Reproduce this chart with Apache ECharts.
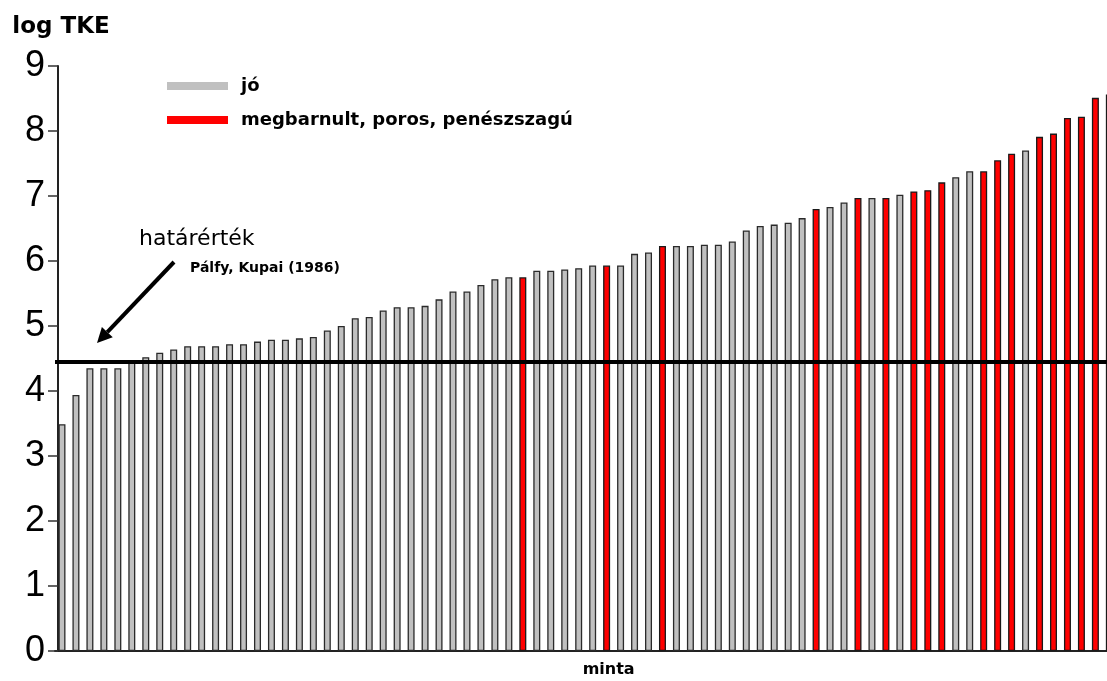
<!DOCTYPE html>
<html>
<head>
<meta charset="utf-8">
<script src="https://cdn.jsdelivr.net/npm/echarts@6/dist/echarts.min.js"></script>
<style>
html,body{margin:0;padding:0;background:#fff;}
#chart{width:1107px;height:681px;}
</style>
</head>
<body>
<div id="chart"></div>
<script>
// --- data ---
const categories = Array.from({length: 76}, (_, i) => String(i + 1));
const values = [
  3.49, 3.94, 4.35, 4.35, 4.35, 4.44, 4.52, 4.59, 4.64, 4.69,
  4.69, 4.69, 4.72, 4.72, 4.76, 4.79, 4.79, 4.81, 4.83, 4.93,
  5.00, 5.12, 5.14, 5.24, 5.29, 5.29, 5.31, 5.41, 5.53, 5.53,
  5.63, 5.72, 5.75, 5.75, 5.85, 5.85, 5.87, 5.89, 5.93, 5.93,
  5.93, 6.11, 6.13, 6.23, 6.23, 6.23, 6.25, 6.25, 6.30, 6.47,
  6.54, 6.56, 6.59, 6.66, 6.80, 6.83, 6.90, 6.97, 6.97, 6.97,
  7.02, 7.07, 7.09, 7.21, 7.29, 7.38, 7.38, 7.55, 7.65, 7.70,
  7.91, 7.96, 8.20, 8.22, 8.51, 8.56
];
// 1 = megbarnult, poros, penészszagú ; 0 = jó
const damaged = [
  0,0,0,0,0,0,0,0,0,0,
  0,0,0,0,0,0,0,0,0,0,
  0,0,0,0,0,0,0,0,0,0,
  0,0,0,1,0,0,0,0,0,1,
  0,0,0,1,0,0,0,0,0,0,
  0,0,0,0,1,0,0,1,0,1,
  0,1,1,1,0,0,1,1,1,0,
  1,1,1,1,1,1
];
const seriesNames = ['jó', 'megbarnult, poros, penészszagú'];
const thresholdValue = 4.45;
const yTicks = [0, 9, 1]; // min, max, interval

const goodData = values.map((v, i) => damaged[i] ? '-' : v);
const badData = values.map((v, i) => damaged[i] ? v : '-');

const chart = echarts.init(document.getElementById('chart'), null, {renderer: 'canvas'});

// arrow geometry (annotation)
const aStart = [174, 262], aTip = [97, 343];
const dx = aTip[0] - aStart[0], dy = aTip[1] - aStart[1];
const L = Math.hypot(dx, dy), ux = dx / L, uy = dy / L;
const headLen = 15, headHalf = 7.5;
const bx = aTip[0] - headLen * ux, by = aTip[1] - headLen * uy;
const nx = -uy, ny = ux;

chart.setOption({
  animation: false,
  backgroundColor: '#ffffff',
  grid: {left: 55, top: 66, width: 76 * 13.965, height: 585, containLabel: false, outerBoundsMode: 'none'},
  legend: {
    orient: 'vertical',
    left: 162,
    top: 72,
    itemWidth: 61,
    itemHeight: 8,
    itemGap: 16,
    icon: 'rect',
    itemStyle: {borderWidth: 0},
    textStyle: {fontFamily: 'DejaVu Sans', fontWeight: 'bold', fontSize: 18, color: '#000', padding: [0, 0, 0, 8]},
    data: seriesNames
  },
  xAxis: {
    type: 'category',
    data: categories,
    name: 'minta',
    nameLocation: 'middle',
    nameGap: 11,
    nameTextStyle: {fontFamily: 'DejaVu Sans', fontWeight: 'bold', fontSize: 16, color: '#000', padding: [0, 0, 0, 46]},
    axisLine: {lineStyle: {color: '#222', width: 2}},
    axisTick: {show: false},
    axisLabel: {show: false},
    splitLine: {show: false}
  },
  yAxis: {
    type: 'value',
    min: yTicks[0],
    max: yTicks[1],
    interval: yTicks[2],
    offset: -3,
    name: 'log TKE',
    nameLocation: 'end',
    nameGap: 27,
    nameTextStyle: {fontFamily: 'DejaVu Sans', fontWeight: 'bold', fontSize: 23, color: '#000', padding: [0, 0, 0, 6]},
    axisLine: {show: true, lineStyle: {color: '#222', width: 2}},
    axisTick: {show: true, length: 10, lineStyle: {color: '#333', width: 1.5}},
    axisLabel: {fontFamily: 'Liberation Sans', fontSize: 36, color: '#000', margin: 13},
    splitLine: {show: false}
  },
  series: [
    {
      name: seriesNames[0],
      type: 'bar',
      data: goodData,
      barWidth: 7,
      barGap: '-100%',
      itemStyle: {color: '#c0c0c0', borderColor: '#2a2a2a', borderWidth: 1.3},
      markLine: {
        silent: true,
        symbol: ['none', 'none'],
        label: {show: false},
        lineStyle: {color: '#000', width: 4, type: 'solid'},
        data: [{yAxis: thresholdValue}]
      }
    },
    {
      name: seriesNames[1],
      type: 'bar',
      data: badData,
      barWidth: 7,
      barGap: '-100%',
      itemStyle: {color: '#ff0000', borderColor: '#1a1a1a', borderWidth: 1.3}
    }
  ],
  graphic: [
    {
      type: 'text', left: 139, top: 228,
      style: {text: 'határérték', fontFamily: 'DejaVu Sans', fontSize: 22, fill: '#000'}
    },
    {
      type: 'text', left: 190, top: 261,
      style: {text: 'Pálfy, Kupai (1986)', fontFamily: 'DejaVu Sans', fontWeight: 'bold', fontSize: 14, fill: '#000'}
    },
    {
      type: 'line',
      shape: {x1: aStart[0], y1: aStart[1], x2: bx, y2: by},
      style: {stroke: '#000', lineWidth: 4}
    },
    {
      type: 'polygon',
      shape: {points: [aTip, [bx + headHalf * nx, by + headHalf * ny], [bx - headHalf * nx, by - headHalf * ny]]},
      style: {fill: '#000'}
    }
  ]
});
</script>
</body>
</html>
